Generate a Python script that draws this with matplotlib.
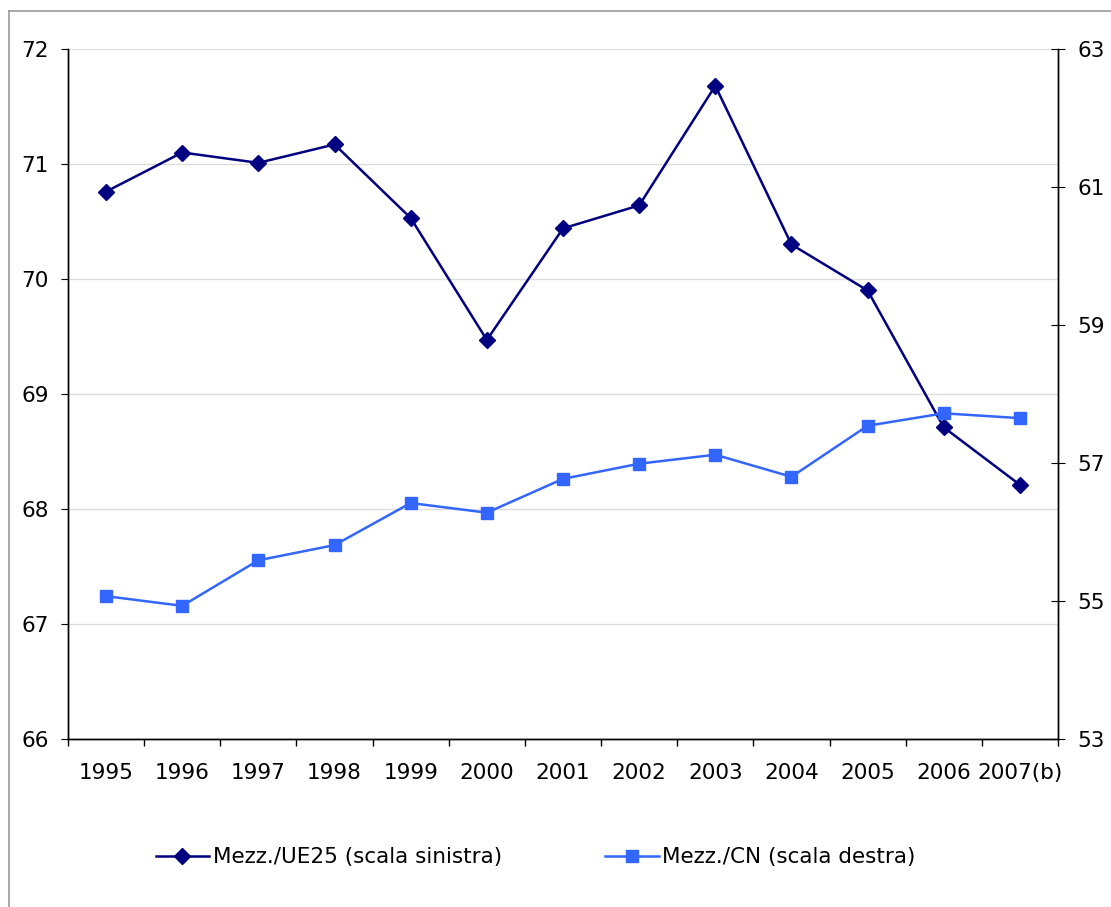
import matplotlib
matplotlib.use("Agg")
import matplotlib.pyplot as plt
import numpy as np
from matplotlib.lines import Line2D

years = ["1995", "1996", "1997", "1998", "1999", "2000", "2001",
         "2002", "2003", "2004", "2005", "2006", "2007(b)"]
ue25 = [70.76, 71.10, 71.01, 71.17, 70.53, 69.47, 70.44,
        70.64, 71.68, 70.30, 69.90, 68.71, 68.21]
cn = [55.07, 54.93, 55.59, 55.81, 56.42, 56.28, 56.77,
      56.99, 57.12, 56.80, 57.54, 57.72, 57.65]

plt.rcParams['font.family'] = ['DejaVu Sans']
navy = "#000080"
blue = "#3366FF"

fig = plt.figure(figsize=(11.11, 9.07), dpi=100)
ax = fig.add_axes([68 / 1111, 1 - 739 / 907, 990 / 1111, 690 / 907])
ax2 = ax.twinx()

x = np.arange(len(years))
ax.plot(x, ue25, color=navy, lw=1.8, marker="D", ms=8, zorder=3)
ax2.plot(x, cn, color=blue, lw=1.8, marker="s", ms=9, zorder=3)

ax.set_xlim(-0.5, len(years) - 0.5)
ax.set_ylim(66, 72)
ax2.set_ylim(53, 63)
ax.set_yticks(np.arange(66, 73, 1))
ax2.set_yticks(np.arange(53, 64, 2))
ax.set_xticks(x)
ax.set_xticklabels(years)
ax.set_xticks(np.arange(-0.5, len(years), 1), minor=True)
ax.tick_params(axis="x", which="major", length=0, pad=17, labelsize=15.5)
ax.tick_params(axis="x", which="minor", length=5, direction="out", width=1)
ax.tick_params(axis="y", length=5, direction="out", pad=9, labelsize=15.5)
ax2.tick_params(axis="y", length=10, direction="inout", pad=9, labelsize=15.5)

ax.grid(axis="y", color="#dcdcdc", lw=1)
ax.set_axisbelow(True)
for a in (ax, ax2):
    a.spines["top"].set_visible(False)
    for s in ("left", "right", "bottom"):
        a.spines[s].set_linewidth(1)
        a.spines[s].set_color("black")

# outer frame of the chart area
fig.add_artist(Line2D([9 / 1111, 9 / 1111], [0, 1 - 11 / 907], color="#999999", lw=1.2))
fig.add_artist(Line2D([9 / 1111, 1], [1 - 11 / 907, 1 - 11 / 907], color="#999999", lw=1.2))

handles = [Line2D([], [], color=navy, lw=1.8, marker="D", ms=8),
           Line2D([], [], color=blue, lw=1.8, marker="s", ms=9)]
labels = ["Mezz./UE25 (scala sinistra)", "Mezz./CN (scala destra)"]
fig.legend(handles, labels, loc="center", bbox_to_anchor=(0.482, 0.055), ncol=2,
           frameon=False, fontsize=15.5, handlelength=2.5, handletextpad=0.15,
           columnspacing=4.8)

fig.savefig("out.png", dpi=100)
